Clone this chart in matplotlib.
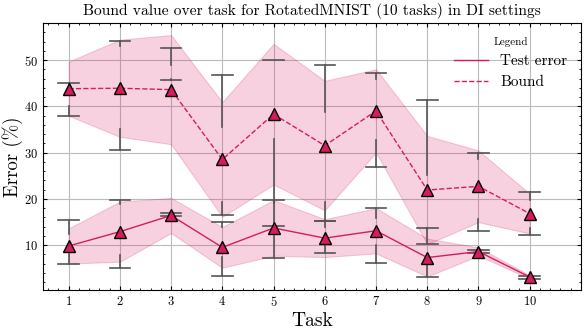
import numpy as np
import matplotlib
matplotlib.use("Agg")
import matplotlib.pyplot as plt
from matplotlib.ticker import MultipleLocator

plt.rcParams['font.family'] = 'serif'
plt.rcParams['font.serif'] = ['cmr10', 'DejaVu Serif']
plt.rcParams['mathtext.fontset'] = 'cm'
plt.rcParams['axes.formatter.use_mathtext'] = True

# values
tasks = [1, 2, 3, 4, 5, 6, 7, 8, 9, 10]
test_mean = [9.8, 12.9, 16.4, 9.5, 13.7, 11.5, 13.1, 7.3, 8.6, 3.1]
test_std = [3.8, 6.5, 3.8, 4.4, 6.0, 4.1, 4.9, 4.1, 0.9, 0.35]
bound_mean = [43.8, 43.9, 43.6, 28.5, 38.3, 31.5, 39.0, 21.9, 22.7, 16.8]
bound_std = [5.85, 10.5, 11.8, 12.4, 15.2, 14.0, 9.0, 11.7, 7.75, 4.3]

# whiskers: (whishi, q3, q1, whislo)
test_whisk = [(15.4, 12.5, 8.0, 6.0), (19.7, 18.8, 7.8, 5.0), (17.0, 16.9, 16.5, 16.3),
              (15.0, 14.0, 7.5, 3.4), (19.7, 19.0, 12.0, 7.2), (15.2, 14.0, 10.0, 8.3),
              (18.0, 15.8, 10.1, 6.1), (13.7, 13.5, 6.0, 3.0), (9.0, 8.8, 8.4, 8.3),
              (3.4, 3.3, 2.9, 2.7)]
bound_whisk = [(45.0, 44.0, 40.0, 38.0), (54.2, 53.0, 35.1, 30.5), (52.6, 48.9, 45.8, 45.6),
               (46.7, 35.5, 19.4, 16.5), (50.0, 50.0, 33.0, 14.2), (49.0, 38.8, 19.4, 15.3),
               (47.1, 46.0, 32.8, 26.8), (41.3, 25.2, 13.7, 10.2), (30.0, 28.7, 15.6, 13.0),
               (21.4, 19.8, 13.7, 12.1)]

col = '#d81b60'

fig = plt.figure(figsize=(5.86, 3.31), dpi=100)
ax = fig.add_axes([0.0734, 0.124, 0.918, 0.8065])

x = np.array(tasks)
for mean, std, ls, lab, whisk in [(test_mean, test_std, '-', 'Test error', test_whisk),
                                  (bound_mean, bound_std, '--', 'Bound', bound_whisk)]:
    m = np.array(mean)
    s = np.array(std)
    ax.fill_between(x, m - s, m + s, color=col, alpha=0.2, lw=0.8, zorder=1)
    stats = [dict(med=mm, q1=w[2], q3=w[1], whislo=w[3], whishi=w[0])
             for mm, w in zip(mean, whisk)]
    ax.bxp(stats, positions=tasks, showbox=False, showfliers=False, widths=0.8,
           manage_ticks=False,
           whiskerprops=dict(color='#555555', lw=1.2),
           capprops=dict(color='#555555', lw=1.2),
           medianprops=dict(lw=0), zorder=3)
    ax.plot(x, m, ls=ls, color=col, lw=1.0, label=lab, zorder=4)
    ax.plot(x, m, ls='none', marker='^', ms=8, mfc=col, mec='black', mew=1.0, zorder=5)

ax.set_xlim(0.5, 11)
ax.set_ylim(0.3, 58)
ax.set_xticks(tasks)
ax.xaxis.set_minor_locator(MultipleLocator(0.2))
ax.yaxis.set_major_locator(MultipleLocator(10))
ax.yaxis.set_minor_locator(MultipleLocator(2))
ax.tick_params(which='both', direction='in', top=True, right=True, labelsize=9)
ax.tick_params(which='major', length=3)
ax.tick_params(which='minor', length=1.5)
ax.grid(True, which='major', color='#bbbbbb', lw=0.8)
ax.set_axisbelow(True)

ax.set_title('Bound value over task for RotatedMNIST (10 tasks) in DI settings', fontsize=11.2)
ax.set_xlabel('Task', fontsize=14, labelpad=2)
ax.set_ylabel('Error (%)', fontsize=13.5, labelpad=1)
leg = ax.legend(title='Legend', loc='upper right', frameon=False, fontsize=11,
                title_fontsize=8, handlelength=2.2)

fig.savefig('out.png', dpi=100)
